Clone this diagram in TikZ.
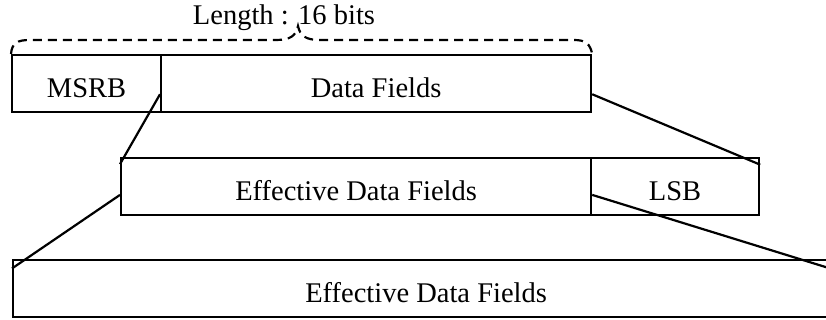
\documentclass[tikz,border=0pt]{standalone}
\usepackage{fontspec}
\setmainfont{Liberation Serif}
\usetikzlibrary{positioning,calc}

\begin{document}
\begin{tikzpicture}[x=1pt,y=-1pt]
 \tikzset{field node/.style={rectangle, draw, line width=2.2pt,
 		minimum height=57pt, inner sep=0pt, text centered,
 		text height=27pt, text depth=0pt,
 		font=\fontsize{28.5}{30}\selectfont}, }
 \tikzset{linea/.style={line width=2.2pt},}
 \tikzset{brace line/.style={line width=2.2pt, dash pattern=on 9pt off 6pt},}
 \useasboundingbox (0,0) rectangle (826,320);
 \clip (0,0) rectangle (826,320);
 \node[field node, anchor=north west, minimum width=149pt] (1) at (11,54) {MSRB};
 \node[field node, minimum width=430pt] (2) [right =-2.2pt of 1] {Data Fields};
 \node[field node, anchor=north west, minimum width=470pt] (3) at (120,157) {Effective Data Fields};
 \node[field node, minimum width=168pt] (4) [right =-2.2pt of 3] {LSB};
 \node[field node, anchor=north west, minimum width=826pt] (5) at (12,259) {Effective Data Fields};
 \node[font=\fontsize{28.5}{30}\selectfont, inner sep=0pt] (len) at (284,18) {Length : 16 bits};
 \coordinate (out) at (840,271.5);
 %% 
 \draw[brace line] (1.north west) .. controls (12,43) and (17,40) .. (30,40)
   -- (276,40) .. controls (290,40) and (296,36) .. (298,26)
   .. controls (300,36) and (306,40) .. (320,40)
   -- (574,40) .. controls (586,40) and (590,44) .. (2.north east);
 \draw[linea] ($(2.south west)!0.32!(2.north west)$) -- ($(3.north west)!0.12!(3.south west)$);
 \draw[linea] ($(2.north east)!0.68!(2.south east)$) -- ($(4.north east)!0.13!(4.south east)$);
 \draw[linea] ($(3.north west)!0.64!(3.south west)$) -- ($(5.north west)!0.16!(5.south west)$);
 \draw[linea] ($(3.north east)!0.64!(3.south east)$) -- (out);
\end{tikzpicture}
\end{document}
